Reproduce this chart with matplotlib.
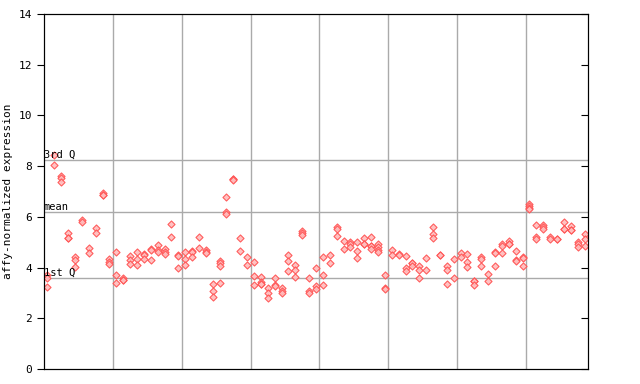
import matplotlib
matplotlib.use('Agg')
import matplotlib.pyplot as plt

# replicate values per sample
values = [
    [3.71, 3.58, 3.25],
    [8.43, 8.03],
    [7.60, 7.55, 7.39],
    [5.35, 5.18, 5.16],
    [4.43, 4.30, 4.04],
    [5.88, 5.80],
    [4.76, 4.59],
    [5.55, 5.38],
    [6.93, 6.88, 6.86],
    [4.34, 4.23, 4.14],
    [4.60, 3.71, 3.38],
    [3.60, 3.52, 3.50],
    [4.47, 4.30, 4.14],
    [4.60, 4.34, 4.09],
    [4.52, 4.48, 4.34],
    [4.73, 4.70, 4.28],
    [4.89, 4.69, 4.60],
    [4.72, 4.63, 4.53],
    [5.70, 5.19],
    [4.48, 4.45, 3.97],
    [4.60, 4.34, 4.09],
    [4.64, 4.62, 4.40],
    [5.19, 4.76],
    [4.69, 4.60, 4.58],
    [3.35, 3.09, 2.83],
    [4.25, 4.17, 4.07, 3.38],
    [6.77, 6.20, 6.11],
    [7.50, 7.48, 7.45],
    [5.15, 4.64],
    [4.40, 4.09],
    [4.21, 3.65, 3.30],
    [3.63, 3.44, 3.36, 3.34],
    [3.18, 2.98, 2.79],
    [3.60, 3.30, 3.28],
    [3.18, 3.09, 3.00],
    [4.48, 4.26, 3.86],
    [4.09, 3.89, 3.63],
    [5.45, 5.38, 5.30],
    [3.60, 3.09, 2.98],
    [3.97, 3.26, 3.16],
    [4.43, 3.71, 3.30],
    [4.48, 4.17],
    [5.59, 5.52, 5.23],
    [5.03, 4.72],
    [5.01, 4.94, 4.80],
    [4.99, 4.64, 4.36],
    [5.15, 4.94, 4.92],
    [5.19, 4.86, 4.84, 4.75],
    [4.95, 4.80, 4.69, 4.60],
    [3.72, 3.18, 3.16],
    [4.69, 4.48],
    [4.53, 4.50],
    [4.44, 3.97, 3.88],
    [4.20, 4.18, 4.07],
    [4.06, 3.89, 3.58],
    [4.36, 3.89],
    [5.59, 5.31, 5.15],
    [4.51, 4.48],
    [4.05, 3.90, 3.34],
    [4.34, 3.58],
    [4.56, 4.40],
    [4.52, 4.21, 4.04],
    [3.49, 3.47, 3.30],
    [4.40, 4.32, 4.05],
    [3.73, 3.47],
    [4.60, 4.58, 4.05],
    [4.94, 4.85, 4.56],
    [5.03, 4.95, 4.93],
    [4.65, 4.28, 4.26],
    [4.40, 4.38, 4.05],
    [6.51, 6.43, 6.34, 6.32],
    [5.67, 5.22, 5.13],
    [5.67, 5.59, 5.51],
    [5.22, 5.13],
    [5.14, 5.12],
    [5.80, 5.54, 5.52],
    [5.64, 5.49, 5.47],
    [5.02, 4.92, 4.80],
    [5.31, 5.11, 4.85],
]
q1 = 3.6
mean_val = 6.2
q3 = 8.25
group_edges = [9.5, 19.5, 29.5, 39.5, 49.5, 59.5, 69.5]

xs = [i for i, v in enumerate(values) for _ in v]
ys = [y for v in values for y in v]

mono = 'DejaVu Sans Mono'
fig = plt.figure(figsize=(6.4, 3.84), dpi=100)
ax = fig.add_axes([0.06875, 0.039, 0.85, 0.9245])

for e in group_edges:
    ax.axvline(e, color='#aaaaaa', linewidth=1, zorder=1)
for val, lab in [(q3, '3rd Q'), (mean_val, 'mean'), (q1, '1st Q')]:
    ax.axhline(val, color='#aaaaaa', linewidth=1, zorder=1)
    ax.text(-0.5, val, lab, family=mono, fontsize=7.5, ha='left', va='bottom', zorder=3)

ax.scatter(xs, ys, marker='D', s=13, facecolor='#ffbcbc', edgecolor='#ff5050',
           linewidth=0.8, alpha=0.9, zorder=2)

ax.set_xlim(-0.5, len(values) - 0.5)
ax.set_ylim(0, 14)
ax.set_yticks(range(0, 15, 2))
ax.set_xticks([])
ax.tick_params(axis='y', direction='out', length=5, labelsize=8)
for lab in ax.get_yticklabels():
    lab.set_family(mono)
ax.set_ylabel('affy-normalized expression', family=mono, fontsize=8)

# inward ticks on the right side
ax_r = ax.twinx()
ax_r.set_ylim(0, 14)
ax_r.set_yticks(range(0, 15, 2))
ax_r.tick_params(axis='y', direction='in', length=5, labelright=False)

plt.savefig('out.png', dpi=100)
